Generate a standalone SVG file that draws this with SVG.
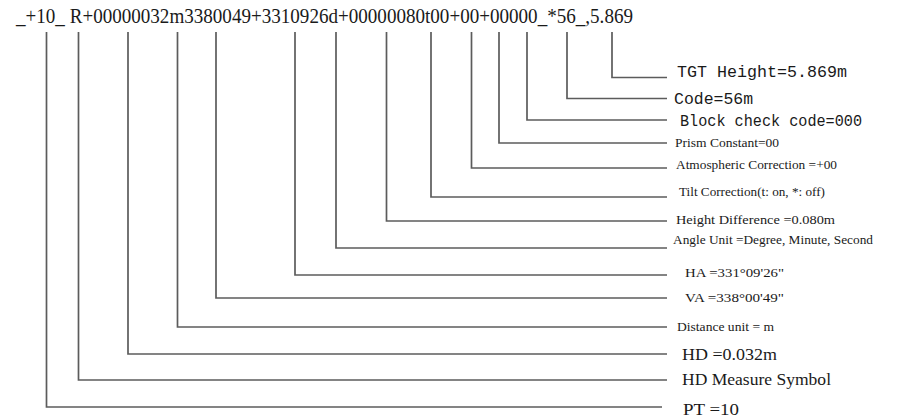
<svg xmlns="http://www.w3.org/2000/svg" width="902" height="418" viewBox="0 0 902 418">
<style>
.bg{fill:#ffffff}
.c{fill:none;stroke:#5c5c5c;stroke-width:1.7}
.top{font-family:"Liberation Serif",serif;font-size:21px;fill:#1a1a1a}
.mono{font-family:"Liberation Mono","DejaVu Sans Mono",monospace;font-size:16px;fill:#1a1a1a}
.ser{font-family:"Liberation Serif",serif;font-size:12px;fill:#1a1a1a}
.big{font-family:"Liberation Serif",serif;font-size:17px;fill:#1a1a1a}
</style>
<rect class="bg" x="0" y="0" width="902" height="418"/>
<g id="code-string">
<text class="top" x="16" y="23" textLength="617" lengthAdjust="spacingAndGlyphs">_+10_ R+00000032m3380049+3310926d+00000080t00+00+00000_*56_,5.869</text>
</g>
<g id="connectors">
<polyline class="c" points="46.5,32 46.5,407 662,407"/>
<polyline class="c" points="78.5,32 78.5,380 667,380"/>
<polyline class="c" points="128,32 128,354 667,354"/>
<polyline class="c" points="177.5,32 177.5,327 667,327"/>
<polyline class="c" points="216,32 216,298 667,298"/>
<polyline class="c" points="295,32 295,275 667,275"/>
<polyline class="c" points="336,32 336,248 667,248"/>
<polyline class="c" points="386.5,32 386.5,221 667,221"/>
<polyline class="c" points="431,32 431,197 667,197"/>
<polyline class="c" points="471.5,32 471.5,168 667,168"/>
<polyline class="c" points="499,32 499,143 667,143"/>
<polyline class="c" points="527,32 527,120 667,120"/>
<polyline class="c" points="567,32 567,98.5 667,98.5"/>
<polyline class="c" points="612,32 612,77.5 667,77.5"/>
</g>
<g id="tgt-height"><text class="mono" x="677" y="77" textLength="170" lengthAdjust="spacingAndGlyphs">TGT Height=5.869m</text></g>
<g id="code"><text class="mono" x="674" y="104" textLength="79" lengthAdjust="spacingAndGlyphs">Code=56m</text></g>
<g id="block-check"><text class="mono" x="680" y="126" textLength="182" lengthAdjust="spacingAndGlyphs" fill="#333">Block check code=000</text></g>
<g id="prism-constant"><text class="ser" x="675" y="147" textLength="104" lengthAdjust="spacingAndGlyphs">Prism Constant=00</text></g>
<g id="atmospheric"><text class="ser" x="676" y="169" textLength="161" lengthAdjust="spacingAndGlyphs">Atmospheric Correction =+00</text></g>
<g id="tilt"><text class="ser" x="679" y="196" textLength="146" lengthAdjust="spacingAndGlyphs">Tilt Correction(t: on, *: off)</text></g>
<g id="height-difference"><text class="ser" x="676" y="224" textLength="159" lengthAdjust="spacingAndGlyphs">Height Difference =0.080m</text></g>
<g id="angle-unit"><text class="ser" x="673" y="244" textLength="200" lengthAdjust="spacingAndGlyphs">Angle Unit =Degree, Minute, Second</text></g>
<g id="ha"><text class="ser" x="685" y="277" textLength="99" lengthAdjust="spacingAndGlyphs">HA  =331°09'26"</text></g>
<g id="va"><text class="ser" x="685" y="302" textLength="99" lengthAdjust="spacingAndGlyphs">VA  =338°00'49"</text></g>
<g id="distance-unit"><text class="ser" x="677" y="331" textLength="97" lengthAdjust="spacingAndGlyphs">Distance unit = m</text></g>
<g id="hd"><text class="big" x="682" y="360" textLength="95" lengthAdjust="spacingAndGlyphs">HD =0.032m</text></g>
<g id="hd-measure"><text class="big" x="682" y="385" textLength="149" lengthAdjust="spacingAndGlyphs">HD Measure Symbol</text></g>
<g id="pt"><text class="big" x="683" y="415" textLength="56" lengthAdjust="spacingAndGlyphs">PT =10</text></g>
</svg>
